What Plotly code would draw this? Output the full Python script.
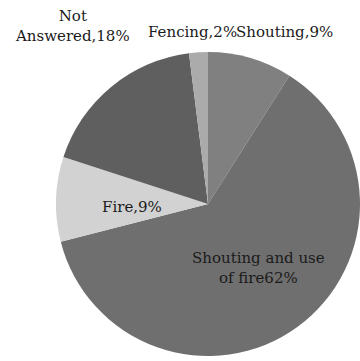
import plotly.graph_objects as go

labels = ["Shouting", "Shouting and use of fire", "Fire", "Not Answered", "Fencing"]
values = [9, 62, 9, 18, 2]
colors = ["#808080", "#6f6f6f", "#d2d2d2", "#5f5f5f", "#ababab"]
label_texts = ["Shouting,9%", "Shouting and use<br>of fire62%", "Fire,9%", "Not<br>Answered,18%", "Fencing,2%"]
label_pos = [(284, 32), (258, 268), (132, 207), (72, 26), (192, 32)]

W, H = 360, 361
fig = go.Figure(go.Pie(
    labels=labels, values=values, sort=False, direction="clockwise", rotation=0,
    marker=dict(colors=colors, line=dict(width=0)),
    textinfo="none", hoverinfo="label+percent",
    domain=dict(x=[56 / W, 360 / W], y=[1 - 356 / H, 1 - 52 / H]),
    showlegend=False,
))

for t, (x, y) in zip(label_texts, label_pos):
    fig.add_annotation(x=x / W, y=1 - y / H, xref="paper", yref="paper", text=t,
                       showarrow=False, xanchor="center", yanchor="middle",
                       font=dict(family="DejaVu Serif", size=15, color="#1a1a1a"))

fig.update_layout(width=W, height=H, margin=dict(l=0, r=0, t=0, b=0),
                  paper_bgcolor="white", plot_bgcolor="white")
fig.write_html("out.html")
